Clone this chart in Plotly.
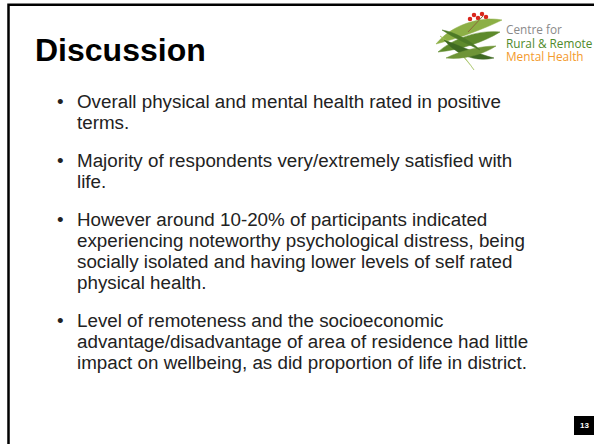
import plotly.graph_objects as go

# slide content
title = "Discussion"
bullets = [
    ["Overall physical and mental health rated in positive", "terms."],
    ["Majority of respondents very/extremely satisfied with", "life."],
    ["However around 10-20% of participants indicated",
     "experiencing noteworthy psychological distress, being",
     "socially isolated and having lower levels of self rated",
     "physical health."],
    ["Level of remoteness and the socioeconomic",
     "advantage/disadvantage of area of residence had little",
     "impact on wellbeing, as did proportion of life in district."],
]
logo_lines = ["Centre for", "Rural & Remote", "Mental Health"]
logo_colors = ["#8a8a8a", "#4f8a2b", "#f39a2c"]
page_number = "13"

W, H = 594, 444
fig = go.Figure()

# invisible trace so the axes exist
fig.add_trace(go.Scatter(x=[0, W], y=[0, H], mode="markers",
                         marker=dict(opacity=0), hoverinfo="skip", showlegend=False))

# slide frame (right and bottom run off the page)
fig.add_shape(type="rect", x0=8.5, y0=4.8, x1=W + 10, y1=H + 10,
              line=dict(color="black", width=2.5))

fig.add_annotation(x=33, y=50, text="<b>" + title + "</b>", showarrow=False,
                   xanchor="left", yanchor="middle",
                   font=dict(family="Liberation Sans, Arial", size=32, color="black"))

# bullets
y = 101
line_gap = 21
para_gap = 17
body_font = dict(family="Liberation Sans, Arial", size=18.8, color="#222222")
for para in bullets:
    fig.add_annotation(x=55, y=y, text="•", showarrow=False, xanchor="left",
                       yanchor="middle", font=body_font)
    for line in para:
        fig.add_annotation(x=75, y=y, text=line, showarrow=False, xanchor="left",
                           yanchor="middle", font=body_font)
        y += line_gap
    y += para_gap

# logo: gum leaves and blossoms
leaves = [
    ("M436,44 C452,24 482,16 502,20 C486,28 460,38 436,44 Z", "#8caf45"),
    ("M438,52 C456,36 482,30 500,32 C484,42 460,50 438,52 Z", "#5e8a2c"),
    ("M440,36 C452,46 466,58 474,70 C466,58 454,44 440,36 Z", "#9cbc55"),
    ("M444,40 C458,56 476,62 494,58 C478,54 460,46 444,40 Z", "#3f6a22"),
    ("M446,58 C462,50 482,46 496,46 C484,54 464,60 446,58 Z", "#6e9436"),
    ("M442,30 C454,32 470,40 480,50 C468,44 454,38 442,30 Z", "#4d7a26"),
]
for path, col in leaves:
    fig.add_shape(type="path", path=path, fillcolor=col, line=dict(color=col, width=0.5))
fig.add_shape(type="line", x0=468, y0=32, x1=483, y1=16, line=dict(color="#8a6a3a", width=1))
blossoms_x = [470, 474, 478, 482, 486, 473, 484, 489]
blossoms_y = [19, 15, 18, 14, 17, 24, 23, 21]
fig.add_trace(go.Scatter(x=blossoms_x, y=blossoms_y, mode="markers",
                         marker=dict(color="#d9261c", size=4.5), hoverinfo="skip",
                         showlegend=False))

for i, (txt, col) in enumerate(zip(logo_lines, logo_colors)):
    fig.add_annotation(x=504, y=29 + i * 13.5, text=txt, showarrow=False,
                       xanchor="left", yanchor="middle",
                       font=dict(family="Open Sans", size=11.8, color=col))

# page number box
fig.add_shape(type="rect", x0=574, y0=416, x1=W + 2, y1=435,
              fillcolor="black", line=dict(width=0))
fig.add_annotation(x=584, y=425.5, text="<b>" + page_number + "</b>", showarrow=False,
                   font=dict(family="Liberation Sans, Arial", size=8, color="white"))

fig.update_xaxes(range=[0, W], visible=False, fixedrange=True)
fig.update_yaxes(range=[H, 0], visible=False, fixedrange=True)
fig.update_layout(width=W, height=H, margin=dict(l=0, r=0, t=0, b=0),
                  plot_bgcolor="white", paper_bgcolor="white", showlegend=False)

fig.write_html("out.html", config={"displayModeBar": False},
               post_script="document.body.style.margin='0';")
